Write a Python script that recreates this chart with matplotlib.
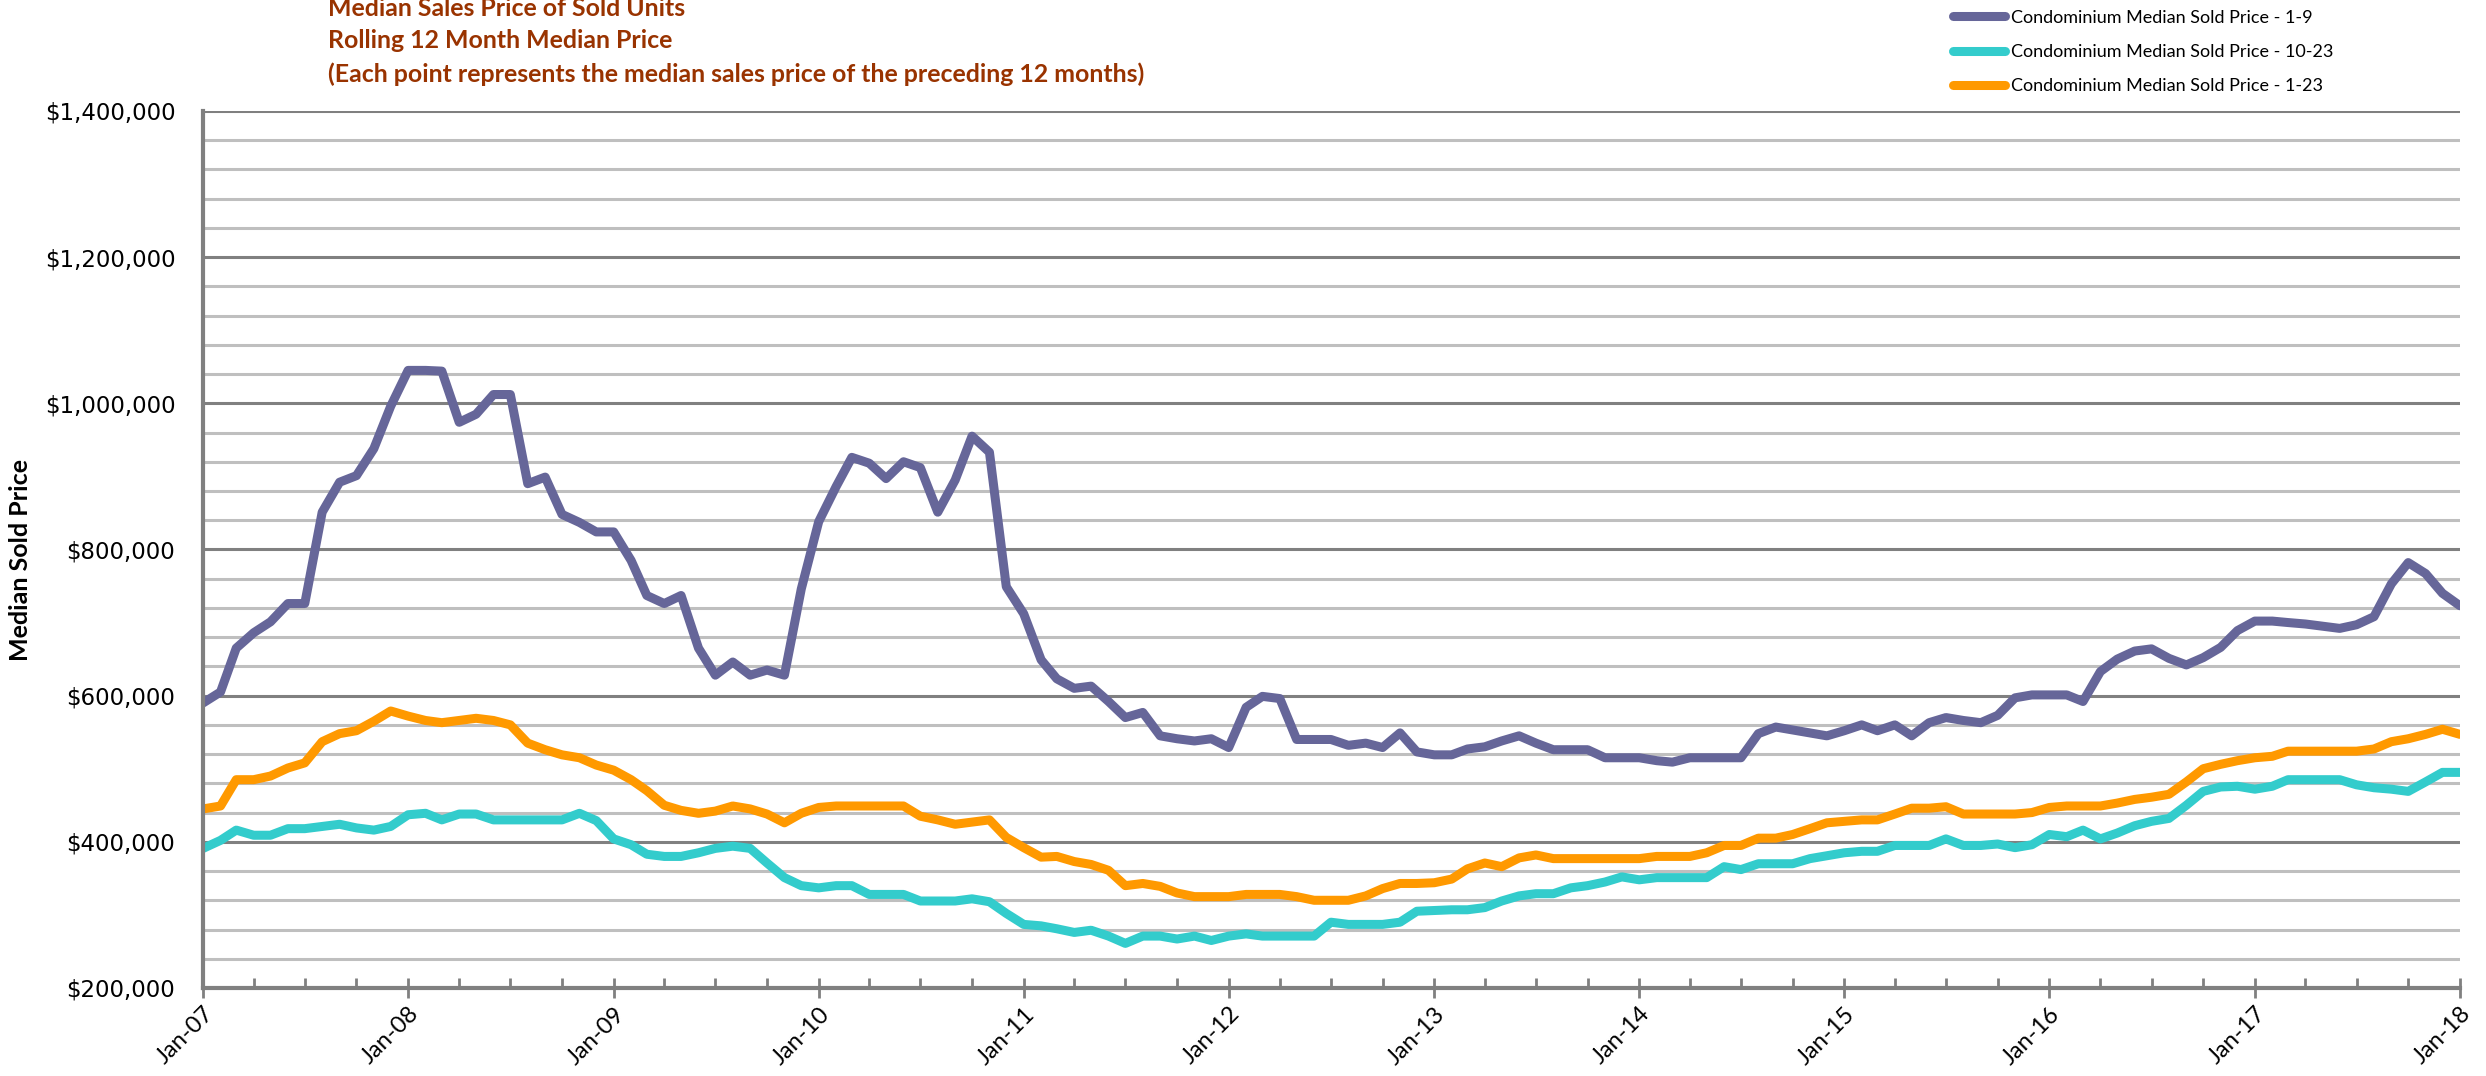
import matplotlib
matplotlib.use('Agg')
import matplotlib.pyplot as plt
import matplotlib.dates as mdates
import matplotlib.ticker as mticker
import numpy as np
import pandas as pd

# monthly points, Jan-07 .. Jan-18 (values in $ thousands)
months = pd.date_range('2007-01-01', '2018-01-01', freq='MS')

price_1_9 = [590, 605, 665, 686, 701, 726, 726, 851, 892, 901, 938, 996, 1045,
             1045, 1044, 974, 985, 1012, 1012, 890, 899, 848, 837, 824, 824,
             785, 737, 726, 737, 665, 628, 646, 628, 635, 628, 746, 838,
             886, 926, 918, 897, 920, 912, 851, 895, 955, 933, 749, 712,
             649, 623, 610, 613, 592, 570, 577, 545, 541, 538, 541, 529,
             584, 599, 596, 540, 540, 540, 532, 535, 529, 549, 523, 519,
             519, 527, 530, 538, 545, 535, 526, 526, 526, 515, 515, 515,
             511, 509, 515, 515, 515, 515, 548, 557, 553, 549, 545, 552,
             560, 552, 560, 545, 563, 570, 566, 563, 573, 597, 601, 601,
             601, 592, 633, 650, 661, 664, 651, 642, 652, 666, 689, 702,
             702, 700, 698, 695, 692, 697, 708, 753, 782, 767, 740, 723]

price_10_23 = [391, 402, 416, 409, 409, 418, 418, 421, 424, 419, 416, 421, 437,
               439, 430, 438, 438, 430, 430, 430, 430, 430, 439, 429, 404,
               396, 383, 380, 380, 385, 391, 394, 391, 371, 351, 340, 337,
               340, 340, 328, 328, 328, 319, 319, 319, 322, 318, 302, 287,
               285, 281, 276, 279, 271, 261, 271, 271, 267, 271, 265, 271,
               274, 271, 271, 271, 271, 290, 287, 287, 287, 290, 305, 306,
               307, 307, 310, 319, 326, 329, 329, 337, 340, 345, 352, 348,
               351, 351, 351, 351, 366, 362, 370, 370, 370, 377, 381, 385,
               387, 387, 395, 395, 395, 404, 395, 395, 397, 392, 396, 410,
               407, 416, 404, 412, 422, 428, 432, 450, 469, 475, 476, 472,
               476, 485, 485, 485, 485, 478, 474, 472, 469, 482, 495, 495]

price_1_23 = [445, 449, 485, 485, 490, 501, 508, 537, 548, 552, 565, 579, 572,
              566, 563, 566, 569, 566, 560, 535, 526, 519, 515, 505, 498,
              485, 470, 450, 443, 439, 442, 449, 445, 438, 426, 439, 447,
              449, 449, 449, 449, 449, 435, 430, 424, 427, 430, 406, 392,
              379, 380, 373, 369, 361, 340, 343, 339, 330, 325, 325, 325,
              328, 328, 328, 325, 320, 320, 320, 326, 336, 343, 343, 344,
              349, 363, 371, 366, 378, 382, 377, 377, 377, 377, 377, 377,
              380, 380, 380, 385, 395, 395, 405, 405, 410, 418, 426, 428,
              430, 430, 438, 446, 446, 448, 438, 438, 438, 438, 440, 447,
              449, 449, 449, 453, 458, 461, 465, 482, 500, 506, 511, 515,
              517, 524, 524, 524, 524, 524, 527, 537, 541, 547, 554, 547]

series_labels = ['Condominium Median Sold Price - 1-9',
                 'Condominium Median Sold Price - 10-23',
                 'Condominium Median Sold Price - 1-23']
series_colors = ['#666699', '#33CCCC', '#FF9900']

title_lines = ['Median Sales Price of Sold Units',
               'Rolling 12 Month Median Price',
               '(Each point represents the median sales price of the preceding 12 months)']

fig = plt.figure(figsize=(24.86, 10.76), dpi=100)
ax = fig.add_axes([0.0817, 0.0818, 0.9078, 0.8151])

for vals, col, lab in zip([price_1_9, price_10_23, price_1_23], series_colors, series_labels):
    ax.plot(months, np.array(vals) * 1000, color=col, lw=6.5, label=lab,
            solid_joinstyle='round', solid_capstyle='round')

ax.set_xlim(months[0], months[-1])
ax.set_ylim(200000, 1400000)

# y axis
ax.yaxis.set_major_locator(mticker.MultipleLocator(200000))
ax.yaxis.set_minor_locator(mticker.MultipleLocator(40000))
ax.yaxis.set_major_formatter(mticker.FuncFormatter(lambda v, p: f'${v:,.0f}'))
ax.grid(which='major', axis='y', color='#808080', lw=2.2)
ax.grid(which='minor', axis='y', color='#BFBFBF', lw=2.2)
ax.set_axisbelow(True)
ax.tick_params(axis='y', which='both', length=0, pad=20, labelsize=16.5)

# x axis
ax.xaxis.set_major_locator(mdates.YearLocator())
ax.xaxis.set_major_formatter(mdates.DateFormatter('%b-%y'))
ax.xaxis.set_minor_locator(mdates.MonthLocator(bymonth=[4, 7, 10]))
ax.tick_params(axis='x', which='major', direction='inout', length=14, width=2,
               color='#808080', pad=4)
ax.tick_params(axis='x', which='minor', direction='in', length=7, width=2,
               color='#808080')
for lbl in ax.get_xticklabels():
    lbl.set_rotation(45)
    lbl.set_ha('right')
    lbl.set_rotation_mode('anchor')
    lbl.set_fontsize(17)
    lbl.set_family('Lato')

for side in ['top', 'right']:
    ax.spines[side].set_visible(False)
for side in ['left', 'bottom']:
    ax.spines[side].set_color('#808080')
    ax.spines[side].set_linewidth(3)

fig.text(21 / 2486, 0.48, 'Median Sold Price', rotation=90, ha='center', va='center',
         fontsize=18, fontweight='bold', family='Lato')

for i, line in enumerate(title_lines):
    fig.text(0.132, 1 - (8 + 33 * i) / 1076, line, ha='left', va='center',
             fontsize=17.9, fontweight='bold', family='Lato', color='#993300')

fig.legend(loc='upper left', bbox_to_anchor=(0.779, 1.006), frameon=False,
           handlelength=2.9, handletextpad=0.3, labelspacing=1.0,
           prop={'family': 'Lato', 'size': 13})

fig.savefig('out.png', dpi=100)
